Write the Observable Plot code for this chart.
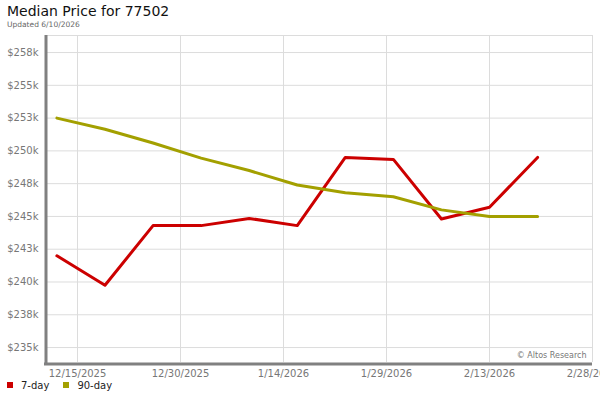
<!DOCTYPE html>
<html>
<head>
<meta charset="utf-8">
<script src="https://cdn.jsdelivr.net/npm/d3@7"></script>
<script src="https://cdn.jsdelivr.net/npm/@observablehq/plot@0.6"></script>
<style>
  html, body { margin: 0; padding: 0; background: #fff; font-family: "DejaVu Sans", sans-serif; }
  #wrap { position: relative; width: 600px; height: 400px; overflow: hidden; }
  #title { position: absolute; left: 7px; top: 3px; font-size: 14px; color: #111; line-height: 16px; white-space: nowrap; }
  #sub { position: absolute; left: 7px; top: 20px; font-size: 7.5px; color: #666; line-height: 9px; white-space: nowrap; }
  #chart { position: absolute; left: 0; top: 30px; }
  #legend { position: absolute; left: 7px; top: 380px; font-size: 10px; color: #222; line-height: 12px; white-space: nowrap; }
  .sw { display: inline-block; width: 6px; height: 6px; margin-right: 8px; vertical-align: 1px; }
  .item { margin-right: 14px; }
</style>
</head>
<body>
<div id="wrap">
  <div id="title">Median Price for 77502</div>
  <div id="sub">Updated 6/10/2026</div>
  <div id="chart"></div>
  <div id="legend"></div>
</div>
<script>
const dates = ["2025-12-12","2025-12-19","2025-12-26","2026-01-02","2026-01-09","2026-01-16","2026-01-23","2026-01-30","2026-02-06","2026-02-13","2026-02-20"];
const sevenDay = [242000, 239750, 244300, 244300, 244850, 244300, 249500, 249350, 244800, 245700, 249500];
const ninetyDay = [252500, 251650, 250600, 249450, 248500, 247400, 246800, 246500, 245500, 245000, 245000];
const seriesNames = ["7-day", "90-day"];
const seriesColors = ["#cc0000", "#a3a000"];
const xTickDates = ["2025-12-15","2025-12-30","2026-01-14","2026-01-29","2026-02-13","2026-02-28"];
const yTicks = [235000, 237500, 240000, 242500, 245000, 247500, 250000, 252500, 255000, 257500];

const rows = [];
dates.forEach((d, i) => {
  rows.push({date: new Date(d + "T00:00:00Z"), value: sevenDay[i], series: seriesNames[0]});
  rows.push({date: new Date(d + "T00:00:00Z"), value: ninetyDay[i], series: seriesNames[1]});
});
const xTicks = xTickDates.map(d => new Date(d + "T00:00:00Z"));
const xDomain = [new Date(Date.parse("2025-12-15T00:00:00Z") - 4.37 * 864e5), new Date("2026-02-28T00:00:00Z")];
const yDomain = [233860, 258800];
const fmtDate = d3.utcFormat("%-m/%-d/%Y");

const chart = Plot.plot({
  width: 600,
  height: 350,
  marginTop: 5,
  marginLeft: 47,
  marginRight: 8,
  marginBottom: 18,
  style: {fontFamily: "DejaVu Sans, sans-serif", fontSize: "10px", color: "#777", background: "#fff", overflow: "visible"},
  x: {type: "utc", domain: xDomain},
  y: {domain: yDomain},
  color: {domain: seriesNames, range: seriesColors},
  marks: [
    Plot.gridX(xTicks, {stroke: "#dcdcdc", strokeOpacity: 1}),
    Plot.gridY(yTicks, {stroke: "#dcdcdc", strokeOpacity: 1}),
    Plot.ruleY([yDomain[1]], {stroke: "#dcdcdc", strokeOpacity: 1}),
    Plot.axisX(xTicks, {tickSize: 0, tickPadding: 7, tickFormat: fmtDate, fill: "#777", label: null}),
    Plot.axisY(yTicks, {tickSize: 0, tickPadding: 9, tickFormat: v => "$" + Math.round(v / 1000 + 1e-9) + "k", fill: "#777", label: null}),
    Plot.text(["© Altos Research"], {frameAnchor: "bottom-right", dx: -6, dy: -5, fontSize: 8, fill: "#777"}),
    Plot.line(rows, {x: "date", y: "value", z: "series", stroke: "series", strokeWidth: 3, curve: "linear"}),
    Plot.ruleX([xDomain[0]], {stroke: "#808080", strokeWidth: 3, dx: -1.5, insetTop: 0, insetBottom: -3}),
    Plot.ruleY([yDomain[0]], {stroke: "#808080", strokeWidth: 3, dy: 1.5, insetLeft: -3})
  ]
});
document.getElementById("chart").appendChild(chart);

const legend = document.getElementById("legend");
seriesNames.forEach((n, i) => {
  const span = document.createElement("span");
  span.className = "item";
  const sw = document.createElement("span");
  sw.className = "sw";
  sw.style.background = seriesColors[i];
  span.appendChild(sw);
  span.appendChild(document.createTextNode(n));
  legend.appendChild(span);
});
</script>
</body>
</html>
